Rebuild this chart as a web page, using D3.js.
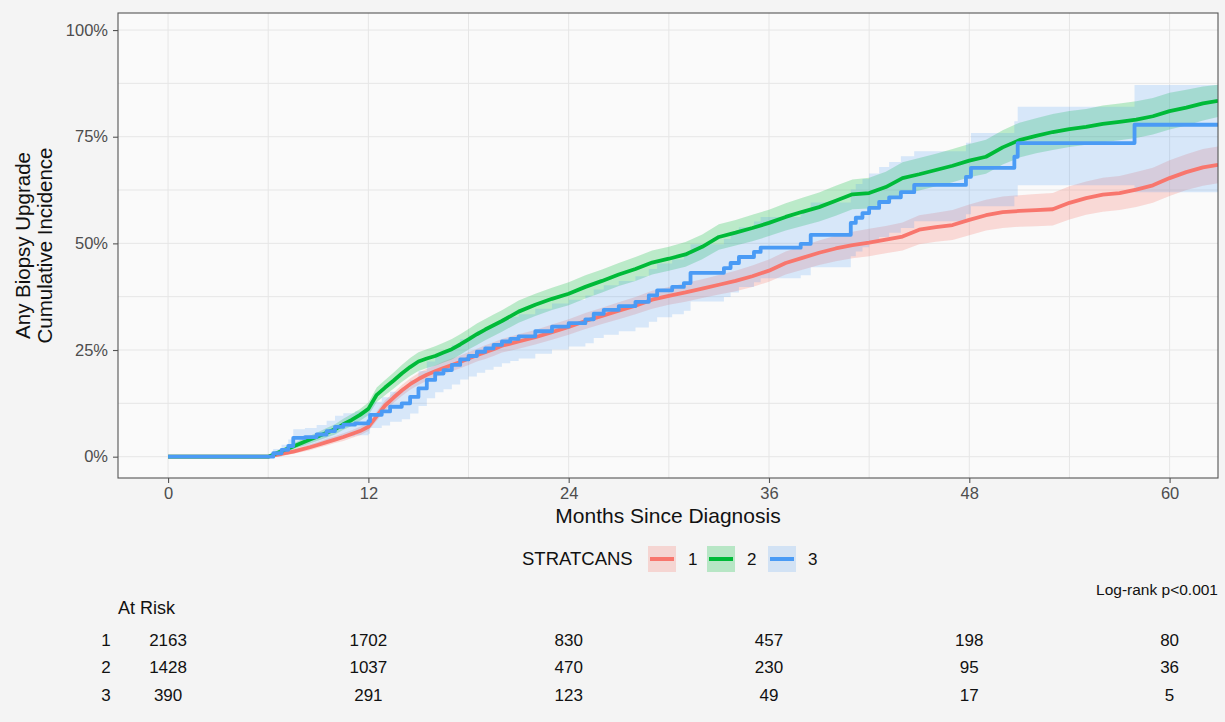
<!DOCTYPE html>
<html>
<head>
<meta charset="utf-8">
<script src="https://cdn.jsdelivr.net/npm/d3@7"></script>
<style>
  html, body { margin: 0; padding: 0; background: #f4f4f4; }
  svg { display: block; font-family: "Liberation Sans", Arial, sans-serif; }
</style>
</head>
<body>
<svg id="chart" width="1225" height="722"></svg>
<script>
// Cumulative incidence of any biopsy upgrade by STRATCANS group (values in %)

// Groups 1 and 2 share one time grid (months since diagnosis)
const monthsA = [0,6,6.5,7,7.5,8,8.5,9,9.5,10,10.5,11,11.5,12,12.5,13,13.5,14,14.5,15,15.5,16,16.5,17,17.5,18,18.5,19,19.5,20,
  21,22,23,24,25,26,27,28,29,30,31,32,33,34,35,36,37,38,39,40,41,42,43,44,45,46,47,48,49,50,51,52,53,54,55,56,57,58,59,60,61,62,62.9];

const inc1 = [0,0,0.4,0.8,1.2,1.7,2.2,2.8,3.4,4.0,4.6,5.3,6.0,7.0,9.5,12.0,13.8,15.5,17.0,18.2,19.2,20.0,20.8,21.5,22.2,23.0,23.8,24.5,25.2,26.0,
  27.0,28.0,29.2,30.4,31.8,33.0,34.2,35.4,36.8,37.7,38.5,39.4,40.3,41.2,42.3,43.6,45.4,46.6,47.8,48.8,49.6,50.2,50.9,51.6,53.2,53.8,54.3,55.5,56.6,57.3,57.6,57.8,58.0,59.5,60.6,61.4,61.8,62.6,63.6,65.3,66.7,67.8,68.4];
const lo1 = [0,0,0.0,0.3,0.7,1.1,1.5,2.1,2.6,3.2,3.7,4.4,5.0,6.0,8.4,10.8,12.6,14.2,15.7,16.8,17.8,18.6,19.3,20.0,20.7,21.5,22.3,22.9,23.6,24.4,
  25.3,26.3,27.4,28.6,29.9,31.1,32.2,33.4,34.7,35.6,36.3,37.2,38.0,38.8,39.8,41.0,42.7,43.8,44.9,45.8,46.5,47.0,47.7,48.3,49.8,50.4,50.8,51.9,53.0,53.6,53.9,54.0,54.2,55.6,56.7,57.4,57.8,58.5,59.5,61.1,62.5,63.5,64.1];
const hi1 = [0,0,0.8,1.3,1.7,2.3,2.9,3.5,4.2,4.8,5.5,6.2,7.0,8.0,10.6,13.2,15.0,16.8,18.3,19.6,20.6,21.4,22.3,23.0,23.7,24.5,25.3,26.1,26.8,27.6,
  28.7,29.7,31.0,32.2,33.7,34.9,36.2,37.4,38.9,39.8,40.7,41.6,42.6,43.6,44.8,46.2,48.1,49.4,50.7,51.8,52.7,53.4,54.1,54.9,56.6,57.2,57.8,59.1,60.2,61.0,61.3,61.6,61.8,63.4,64.5,65.4,65.8,66.7,67.7,69.5,70.9,72.1,72.7];

const inc2 = [0,0,0.8,1.6,2.4,3.2,4.0,4.8,5.6,6.4,7.6,8.6,9.8,11.2,14.5,16.2,17.8,19.5,21.0,22.3,23.0,23.6,24.4,25.2,26.3,27.5,28.7,29.8,30.8,31.8,
  34.0,35.6,37.0,38.2,39.8,41.2,42.7,44.0,45.5,46.4,47.4,49.2,51.5,52.5,53.6,54.8,56.2,57.4,58.5,60.0,61.5,61.8,63.2,65.3,66.2,67.2,68.2,69.4,70.3,72.5,74.2,75.2,76.1,76.8,77.3,78.0,78.5,79.0,79.8,81.0,81.8,82.8,83.4];
const lo2 = [0,0,0.3,1.0,1.7,2.4,3.1,3.8,4.5,5.2,6.3,7.2,8.4,9.7,12.8,14.4,15.9,17.5,18.9,20.1,20.8,21.3,22.1,22.8,23.9,25.1,26.2,27.3,28.3,29.3,
  31.4,33.0,34.4,35.5,37.1,38.5,40.0,41.2,42.7,43.6,44.5,46.3,48.5,49.5,50.5,51.7,53.0,54.1,55.1,56.5,58.0,58.2,59.6,61.6,62.4,63.4,64.3,65.5,66.3,68.5,70.1,71.1,71.9,72.6,73.1,73.7,74.2,74.7,75.5,76.7,77.6,78.8,79.6];
const hi2 = [0,0,1.3,2.2,3.1,4.0,4.9,5.8,6.7,7.6,8.9,10.0,11.2,12.7,16.2,18.0,19.7,21.5,23.1,24.5,25.2,25.9,26.7,27.6,28.7,29.9,31.2,32.3,33.3,34.3,
  36.6,38.2,39.6,40.9,42.5,43.9,45.4,46.8,48.3,49.2,50.3,52.1,54.5,55.5,56.7,57.9,59.4,60.7,61.9,63.5,65.0,65.4,66.8,69.0,70.0,71.0,72.1,73.3,74.3,76.5,78.3,79.3,80.3,81.0,81.5,82.3,82.8,83.3,84.1,85.3,86.0,86.8,87.2];

// Group 3 has fewer patients, so its steps come at their own times
const months3 = [0,6,6.3,6.8,7.2,7.5,8.2,8.9,9.5,10.0,10.5,11.2,12.0,12.1,12.8,13.3,14.0,14.5,15.0,15.5,16.0,16.5,17.0,17.5,18.0,18.5,19.0,19.5,20.0,20.5,
  21.0,22.0,23.0,24.0,25.0,25.5,26.1,27.0,28.0,28.8,29.3,30.2,30.9,31.3,33.3,33.7,34.2,35.1,35.5,37.9,38.5,40.9,41.2,41.6,42.0,42.6,43.2,43.9,44.7,47.8,
  48.1,50.7,50.9,57.9,62.9];
const inc3 = [0,0,0.8,1.6,2.5,4.4,4.6,5.2,6.0,7.0,7.5,7.8,8.3,9.8,10.6,11.7,12.5,14.0,16.0,18.0,19.5,20.3,21.5,22.8,23.6,24.6,25.4,26.2,27.0,27.6,
  28.2,29.4,30.5,31.3,32.2,33.5,34.4,35.3,36.3,37.8,39.0,39.8,40.7,43.1,44.2,45.4,46.8,48.0,49.0,49.9,52.0,54.8,56.0,57.1,58.3,59.7,60.8,62.0,63.7,65.6,
  67.7,70.3,73.5,77.8,77.8];
const lo3 = [0,0,0.0,0.4,1.0,2.4,2.5,3.0,3.6,4.4,4.8,5.0,5.4,6.7,7.3,8.2,8.8,10.1,11.9,13.7,15.1,15.8,16.9,18.1,18.8,19.7,20.4,21.1,21.9,22.4,
  23.0,24.1,25.1,25.8,26.6,27.8,28.6,29.4,30.3,31.6,32.7,33.4,34.2,36.4,37.4,38.5,39.8,40.9,41.8,42.5,44.4,47.0,48.1,49.1,50.2,51.5,52.5,53.6,55.2,56.8,
  58.7,61.0,63.6,62.0,62.0];
const hi3 = [0,0,1.8,2.8,4.0,6.4,6.7,7.4,8.4,9.6,10.2,10.6,11.2,12.9,13.9,15.2,16.2,17.9,20.1,22.3,23.9,24.8,26.1,27.5,28.4,29.5,30.4,31.3,32.1,32.8,
  33.4,34.7,35.9,36.8,37.8,39.2,40.2,41.2,42.3,44.0,45.3,46.2,47.2,49.8,51.0,52.3,53.8,55.1,56.2,57.3,59.6,62.6,63.9,65.1,66.4,67.9,69.1,70.4,71.6,73.6,
  75.9,78.6,82.0,87.1,87.1];

const groupNames = ["1", "2", "3"];
const groupColors = ["#F8766D", "#00BA38", "#4A9BF5"];

// Numbers at risk at each 12-month tick
const riskMonths = [0, 12, 24, 36, 48, 60];
const atRisk1 = [2163, 1702, 830, 457, 198, 80];
const atRisk2 = [1428, 1037, 470, 230, 95, 36];
const atRisk3 = [390, 291, 123, 49, 17, 5];

const xTicks = [0, 12, 24, 36, 48, 60];
const xMinor = [6, 18, 30, 42, 54];
const yTicks = [0, 25, 50, 75, 100];
const yMinor = [12.5, 37.5, 62.5, 87.5];

// groups 1 and 2 are sampled on a dense grid (many tiny steps); group 3 keeps its own steps
const series = [
  { name: groupNames[0], color: groupColors[0], t: monthsA, est: inc1, lo: lo1, hi: hi1, curve: d3.curveLinear, alpha: 0.25 },
  { name: groupNames[1], color: groupColors[1], t: monthsA, est: inc2, lo: lo2, hi: hi2, curve: d3.curveLinear, alpha: 0.25 },
  { name: groupNames[2], color: groupColors[2], t: months3, est: inc3, lo: lo3, hi: hi3, curve: d3.curveStepAfter, alpha: 0.2 }
].map(s => ({ ...s, rows: s.t.map((m, i) => ({ m, est: s.est[i], lo: s.lo[i], hi: s.hi[i] })) }));

const svg = d3.select("#chart");
const P = { left: 118, right: 1218, top: 13, bottom: 478 };

const x = d3.scaleLinear().domain([-3, 62.9]).range([P.left, P.right]);
const y = d3.scaleLinear().domain([-5, 104]).range([P.bottom, P.top]);

// panel background
svg.append("rect")
  .attr("x", P.left).attr("y", P.top)
  .attr("width", P.right - P.left).attr("height", P.bottom - P.top)
  .attr("fill", "#fafafa");

// grid
const grid = svg.append("g").attr("stroke", "#e6e6e6").attr("stroke-width", 1);
grid.selectAll(".gx").data(xTicks.concat(xMinor)).join("line")
  .attr("x1", d => x(d)).attr("x2", d => x(d))
  .attr("y1", P.top).attr("y2", P.bottom);
grid.selectAll(".gy").data(yTicks.concat(yMinor)).join("line")
  .attr("x1", P.left).attr("x2", P.right)
  .attr("y1", d => y(d)).attr("y2", d => y(d));

// clip to panel
svg.append("clipPath").attr("id", "panel-clip").append("rect")
  .attr("x", P.left).attr("y", P.top)
  .attr("width", P.right - P.left).attr("height", P.bottom - P.top);

const plot = svg.append("g").attr("clip-path", "url(#panel-clip)");

plot.selectAll(".band").data(series).join("path")
  .attr("d", s => d3.area().curve(s.curve)
    .x(d => x(d.m)).y0(d => y(d.lo)).y1(d => y(d.hi))(s.rows))
  .attr("fill", s => s.color)
  .attr("fill-opacity", s => s.alpha)
  .attr("stroke", "none");

plot.selectAll(".curve").data(series).join("path")
  .attr("d", s => d3.line().curve(s.curve)
    .x(d => x(d.m)).y(d => y(d.est))(s.rows))
  .attr("fill", "none")
  .attr("stroke", s => s.color)
  .attr("stroke-width", 3.8)
  .attr("stroke-linejoin", "round");

// panel border
svg.append("rect")
  .attr("x", P.left).attr("y", P.top)
  .attr("width", P.right - P.left).attr("height", P.bottom - P.top)
  .attr("fill", "none").attr("stroke", "#555").attr("stroke-width", 1.1);

// axes
const yAxis = svg.append("g")
  .attr("transform", `translate(${P.left},0)`)
  .call(d3.axisLeft(y).tickValues(yTicks).tickFormat(d => d + "%").tickSize(5).tickPadding(5));
const xAxis = svg.append("g")
  .attr("transform", `translate(0,${P.bottom})`)
  .call(d3.axisBottom(x).tickValues(xTicks).tickFormat(d3.format("d")).tickSize(5).tickPadding(4));
[yAxis, xAxis].forEach(a => {
  a.select(".domain").remove();
  a.selectAll(".tick line").attr("stroke", "#555").attr("stroke-width", 1.1);
  a.selectAll(".tick text")
    .attr("fill", "#4d4d4d")
    .style("font-size", "16.5px")
    .style("font-family", "'Liberation Sans', Arial, sans-serif");
});

// axis titles
svg.append("text")
  .attr("x", (P.left + P.right) / 2).attr("y", 523)
  .attr("text-anchor", "middle")
  .attr("fill", "#111")
  .style("font-size", "21px")
  .text("Months Since Diagnosis");

const yTitle = svg.append("text")
  .attr("transform", `translate(0,${(P.top + P.bottom) / 2}) rotate(-90)`)
  .attr("text-anchor", "middle")
  .attr("fill", "#111")
  .style("font-size", "20.5px");
yTitle.append("tspan").attr("x", 0).attr("y", 30).text("Any Biopsy Upgrade");
yTitle.append("tspan").attr("x", 0).attr("y", 52).text("Cumulative Incidence");

// legend
const legend = svg.append("g");
legend.append("text")
  .attr("x", 522).attr("y", 565)
  .attr("fill", "#111")
  .style("font-size", "18.5px")
  .text("STRATCANS");
const keyX = [648, 707, 768];
series.forEach((s, i) => {
  const g = legend.append("g").attr("transform", `translate(${keyX[i]},546)`);
  g.append("rect").attr("width", 28).attr("height", 26)
    .attr("fill", s.color).attr("fill-opacity", s.alpha);
  g.append("line").attr("x1", 2).attr("x2", 26).attr("y1", 13).attr("y2", 13)
    .attr("stroke", s.color).attr("stroke-width", 4);
  g.append("text").attr("x", 40).attr("y", 19)
    .attr("fill", "#111").style("font-size", "17px")
    .text(s.name);
});

// log-rank annotation
svg.append("text")
  .attr("x", 1218).attr("y", 595)
  .attr("text-anchor", "end")
  .attr("fill", "#111")
  .style("font-size", "15.5px")
  .text("Log-rank p<0.001");

// risk table
svg.append("text")
  .attr("x", 118).attr("y", 614)
  .attr("fill", "#111")
  .style("font-size", "18px")
  .text("At Risk");

const riskRows = [atRisk1, atRisk2, atRisk3];
const rowY = [646, 673, 701];
riskRows.forEach((row, r) => {
  svg.append("text")
    .attr("x", 106).attr("y", rowY[r])
    .attr("text-anchor", "middle")
    .attr("fill", "#111")
    .style("font-size", "17px")
    .text(groupNames[r]);
  svg.selectAll(null).data(row).join("text")
    .attr("x", (d, i) => x(riskMonths[i]))
    .attr("y", rowY[r])
    .attr("text-anchor", "middle")
    .attr("fill", "#111")
    .style("font-size", "17px")
    .text(d => d);
});
</script>
</body>
</html>
